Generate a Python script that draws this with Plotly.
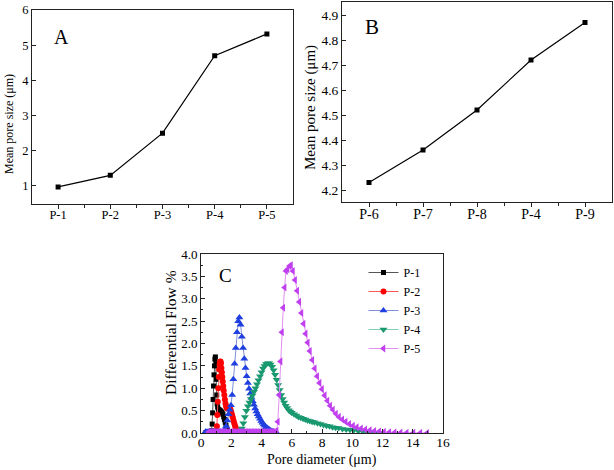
import plotly.graph_objects as go

# ---------------- Data ----------------
cats_a = ["P-1", "P-2", "P-3", "P-4", "P-5"]
vals_a = [0.97, 1.30, 2.50, 4.70, 5.32]

cats_b = ["P-6", "P-7", "P-8", "P-4", "P-9"]
vals_b = [4.23, 4.36, 4.52, 4.72, 4.87]

p1_x = [0.30, 0.40, 0.50, 0.60, 0.70, 0.74, 0.77, 0.80, 0.83, 0.86, 0.89, 0.92, 0.95, 0.98,
        1.01, 1.04, 1.07, 1.10, 1.15, 1.20, 1.25, 1.30, 1.35, 1.40, 1.45, 1.50, 1.55, 1.60,
        1.65, 1.70, 1.75, 1.80, 1.85]
p1_y = [0.00, 0.00, 0.01, 0.01, 0.05, 0.20, 0.45, 0.75, 1.05, 1.30, 1.50, 1.65, 1.70, 1.55,
        1.20, 0.85, 0.65, 0.58, 0.53, 0.52, 0.50, 0.49, 0.47, 0.45, 0.42, 0.36, 0.30, 0.24,
        0.17, 0.11, 0.06, 0.02, 0.00]

p2_x = [0.30, 0.50, 0.70, 0.90, 1.00, 1.05, 1.08, 1.11, 1.14, 1.17, 1.20, 1.23, 1.26, 1.29,
        1.32, 1.35, 1.38, 1.41, 1.44, 1.47, 1.50, 1.54, 1.58, 1.62, 1.66, 1.70, 1.75, 1.80,
        1.85, 1.90, 1.95, 2.00, 2.05, 2.10, 2.15, 2.20, 2.25, 2.30, 2.35, 2.40, 2.45, 2.50,
        2.60, 2.70, 2.80, 3.00, 3.20, 3.40]
p2_y = [0.00, 0.00, 0.00, 0.01, 0.03, 0.15, 0.40, 0.70, 1.00, 1.25, 1.42, 1.53, 1.59, 1.60,
        1.56, 1.45, 1.35, 1.25, 1.15, 1.05, 0.95, 0.85, 0.75, 0.66, 0.60, 0.56, 0.55, 0.56,
        0.57, 0.56, 0.52, 0.47, 0.41, 0.35, 0.28, 0.22, 0.16, 0.11, 0.07, 0.05, 0.03, 0.02,
        0.02, 0.02, 0.01, 0.01, 0.01, 0.00]

p3_x = [0.30, 0.40, 0.50, 0.60, 0.70, 0.80, 0.90, 1.00, 1.10, 1.20, 1.30, 1.40, 1.50, 1.58,
        1.66, 1.74, 1.82, 1.90, 1.98, 2.06, 2.14, 2.22, 2.30, 2.38, 2.46, 2.54, 2.62, 2.70,
        2.78, 2.86, 2.94, 3.02, 3.10, 3.18, 3.26, 3.34, 3.42, 3.50, 3.58, 3.66, 3.74, 3.82,
        3.90, 3.98, 4.06, 4.14, 4.22, 4.30, 4.38, 4.46, 4.54, 4.62, 4.70, 4.78, 4.86, 4.94,
        5.02]
p3_y = [0.03, 0.03, 0.03, 0.03, 0.03, 0.03, 0.03, 0.03, 0.03, 0.03, 0.03, 0.03, 0.04, 0.08,
        0.15, 0.28, 0.42, 0.52, 0.62, 0.85, 1.20, 1.55, 1.90, 2.25, 2.50, 2.58, 2.42, 2.15,
        1.90, 1.66, 1.45, 1.27, 1.12, 0.99, 0.88, 0.79, 0.71, 0.63, 0.55, 0.48, 0.42, 0.37,
        0.32, 0.27, 0.23, 0.19, 0.16, 0.13, 0.11, 0.09, 0.07, 0.05, 0.04, 0.03, 0.02, 0.01,
        0.00]

p4_x = [2.60, 2.70, 2.80, 2.90, 3.00, 3.10, 3.20, 3.30, 3.40, 3.50, 3.60, 3.70, 3.80, 3.90,
        4.00, 4.10, 4.20, 4.30, 4.40, 4.50, 4.60, 4.70, 4.80, 4.90, 5.00, 5.10, 5.20, 5.30,
        5.40, 5.50, 5.60, 5.70, 5.80, 5.90, 6.00, 6.15, 6.30, 6.45, 6.60, 6.75, 6.90, 7.05,
        7.20, 7.35, 7.50, 7.70, 7.90, 8.10, 8.30, 8.50, 8.70, 8.90, 9.10, 9.35, 9.60, 9.85,
        10.10, 10.40, 10.70, 11.00, 11.30, 11.60, 11.90]
p4_y = [0.02, 0.10, 0.22, 0.36, 0.50, 0.60, 0.68, 0.76, 0.84, 0.92, 1.00, 1.09, 1.18, 1.27,
        1.36, 1.44, 1.50, 1.54, 1.56, 1.56, 1.53, 1.48, 1.40, 1.30, 1.19, 1.07, 0.96, 0.85,
        0.76, 0.68, 0.61, 0.56, 0.51, 0.48, 0.45, 0.42, 0.39, 0.36, 0.34, 0.32, 0.30, 0.28,
        0.27, 0.25, 0.24, 0.22, 0.20, 0.18, 0.16, 0.15, 0.13, 0.12, 0.11, 0.09, 0.08, 0.07,
        0.06, 0.04, 0.03, 0.02, 0.01, 0.005, 0.00]

p5_x = [0.50, 0.60, 0.70, 0.80, 0.90, 1.00, 1.10, 1.20, 1.30, 1.40, 1.50, 1.60, 1.70, 1.80,
        1.90, 2.00, 2.10, 2.20, 2.30, 2.40, 2.50, 2.60, 2.70, 2.80, 2.90, 3.00, 3.10, 3.20,
        3.30, 3.40, 3.50, 3.60, 3.70, 3.80, 3.90, 4.00, 4.10, 4.20, 4.30, 4.40, 4.50, 4.60,
        4.70, 4.80, 4.90, 5.00, 5.08, 5.17, 5.26, 5.35, 5.44, 5.53, 5.62, 5.72, 5.85, 5.95,
        6.08, 6.22, 6.36, 6.50, 6.64, 6.78, 6.92, 7.06, 7.20, 7.36, 7.52, 7.68, 7.84, 8.00,
        8.18, 8.36, 8.54, 8.72, 8.92, 9.12, 9.34, 9.56, 9.80, 10.05, 10.30, 10.58, 10.86,
        11.16, 11.46, 11.78, 12.10, 12.45, 12.80, 13.20, 13.60, 14.05, 14.50, 14.95]
p5_y = [0.02, 0.02, 0.02, 0.02, 0.02, 0.02, 0.02, 0.02, 0.02, 0.02, 0.02, 0.02, 0.02, 0.02,
        0.02, 0.02, 0.02, 0.02, 0.02, 0.02, 0.02, 0.02, 0.02, 0.02, 0.02, 0.02, 0.02, 0.02,
        0.02, 0.02, 0.02, 0.02, 0.02, 0.02, 0.02, 0.02, 0.02, 0.02, 0.02, 0.02, 0.02, 0.02,
        0.02, 0.02, 0.02, 0.05, 0.25, 0.85, 1.60, 2.25, 2.80, 3.25, 3.62, 3.66, 3.73, 3.75,
        3.62, 3.42, 3.18, 2.93, 2.68, 2.44, 2.22, 2.02, 1.83, 1.63, 1.44, 1.27, 1.12, 0.98,
        0.84, 0.72, 0.61, 0.52, 0.43, 0.36, 0.30, 0.25, 0.20, 0.16, 0.13, 0.10, 0.08,
        0.06, 0.045, 0.035, 0.025, 0.018, 0.012, 0.008, 0.005, 0.003, 0.002, 0.001]

series_c = [
    ("P-1", p1_x, p1_y, "#000000", "#555555", "square", 5),
    ("P-2", p2_x, p2_y, "#ff0000", "#ff5555", "circle", 6),
    ("P-3", p3_x, p3_y, "#1f3fe0", "#7f8fd8", "triangle-up", 7),
    ("P-4", p4_x, p4_y, "#1a9970", "#7fd0b0", "triangle-down", 7),
    ("P-5", p5_x, p5_y, "#c040f0", "#e090f0", "triangle-left", 7),
]

FONT = "Liberation Serif, Times New Roman, serif"

fig = go.Figure()

# Panel A
fig.add_trace(go.Scatter(x=list(range(len(cats_a))), y=vals_a, mode="lines+markers",
                         line=dict(color="black", width=1.2),
                         marker=dict(symbol="square", size=5, color="black"),
                         showlegend=False, xaxis="x", yaxis="y"))
# Panel B
fig.add_trace(go.Scatter(x=list(range(len(cats_b))), y=vals_b, mode="lines+markers",
                         line=dict(color="black", width=1.2),
                         marker=dict(symbol="square", size=5, color="black"),
                         showlegend=False, xaxis="x2", yaxis="y2"))
# Panel C
for name, xs, ys, mc, lc, sym, sz in series_c:
    fig.add_trace(go.Scatter(x=xs, y=ys, mode="lines+markers", name=name,
                             line=dict(color=lc, width=1),
                             marker=dict(symbol=sym, size=sz, color=mc, line=dict(width=0)),
                             xaxis="x3", yaxis="y3"))

axis_common = dict(showline=True, linecolor="#222222", linewidth=1, mirror=True,
                   showgrid=False, zeroline=False, ticklen=4, tickcolor="#222222",
                   automargin=False)

fig.update_layout(
    template="none",
    width=614, height=470, autosize=False,
    margin=dict(l=0, r=0, t=0, b=0, pad=0, autoexpand=False),
    paper_bgcolor="white", plot_bgcolor="white",
    font=dict(family=FONT, color="black"),
    xaxis=dict(axis_common, domain=[32/614, 293/614], anchor="y", range=[-0.5, 4.5],
               tickvals=list(range(len(cats_a))), ticktext=cats_a, ticks="outside",
               ticklabelstandoff=-5,
               tickfont=dict(family=FONT, size=12.5, color="black"),
               minor=dict(tickvals=[0.5, 1.5, 2.5, 3.5], ticks="outside", ticklen=3, tickcolor="#222222")),
    yaxis=dict(axis_common, domain=[1-203.5/470, 1-10/470], anchor="x", range=[0.5, 6.0],
               tickvals=[1, 2, 3, 4, 5, 6], ticks="inside",
               tickfont=dict(family=FONT, size=12.5, color="black")),
    xaxis2=dict(axis_common, domain=[342/614, 612/614], anchor="y2", range=[-0.5, 4.5],
                tickvals=list(range(len(cats_b))), ticktext=cats_b, ticks="outside",
                ticklabelstandoff=-5,
                tickfont=dict(family=FONT, size=14, color="black"),
                minor=dict(tickvals=[0.5, 1.5, 2.5, 3.5], ticks="outside", ticklen=3, tickcolor="#222222")),
    yaxis2=dict(axis_common, domain=[1-202/470, 1-1.5/470], anchor="x2", range=[4.152, 4.954],
                tickvals=[4.2, 4.3, 4.4, 4.5, 4.6, 4.7, 4.8, 4.9], tickformat=".1f", ticks="inside",
                tickfont=dict(family=FONT, size=13.5, color="black")),
    xaxis3=dict(axis_common, domain=[201/614, 443/614], anchor="y3", range=[0, 16],
                tickvals=[0, 2, 4, 6, 8, 10, 12, 14, 16], ticks="inside",
                ticklabelstandoff=-3,
                tickfont=dict(family=FONT, size=13.5, color="black"),
                minor=dict(dtick=1, ticks="inside", ticklen=2, tickcolor="#222222")),
    yaxis3=dict(axis_common, domain=[1-433/470, 1-254/470], anchor="x3", range=[0, 4.0],
                dtick=0.5, tickformat=".1f", ticks="inside",
                tickfont=dict(family=FONT, size=13, color="black"),
                minor=dict(dtick=0.25, ticks="inside", ticklen=2, tickcolor="#222222")),
    legend=dict(x=0.592, y=1-258/470, xanchor="left", yanchor="top", bgcolor="rgba(0,0,0,0)",
                font=dict(family=FONT, size=12, color="black"), itemwidth=30,
                tracegroupgap=0),
)

annotations = [
    dict(text="A", x=61/614, y=1-37/470, font=dict(size=20)),
    dict(text="B", x=372/614, y=1-27/470, font=dict(size=21)),
    dict(text="C", x=225/614, y=1-275/470, font=dict(size=19)),
    dict(text="Mean pore size (μm)", x=9/614, y=1-124/470, textangle=-90, font=dict(size=12)),
    dict(text="Mean pore size (μm)", x=310/614, y=1-108/470, textangle=-90, font=dict(size=15)),
    dict(text="Differential Flow %", x=170/614, y=1-333/470, textangle=-90, font=dict(size=15.5)),
    dict(text="Pore diameter (μm)", x=322/614, y=1-460/470, font=dict(size=14)),
]
for a in annotations:
    a.update(xref="paper", yref="paper", showarrow=False, xanchor="center", yanchor="middle")
    a["font"].update(family=FONT, color="black")
fig.update_layout(annotations=annotations)

fig.write_html("out.html", config={"displayModeBar": False},
               post_script="document.body.style.margin='0';")
